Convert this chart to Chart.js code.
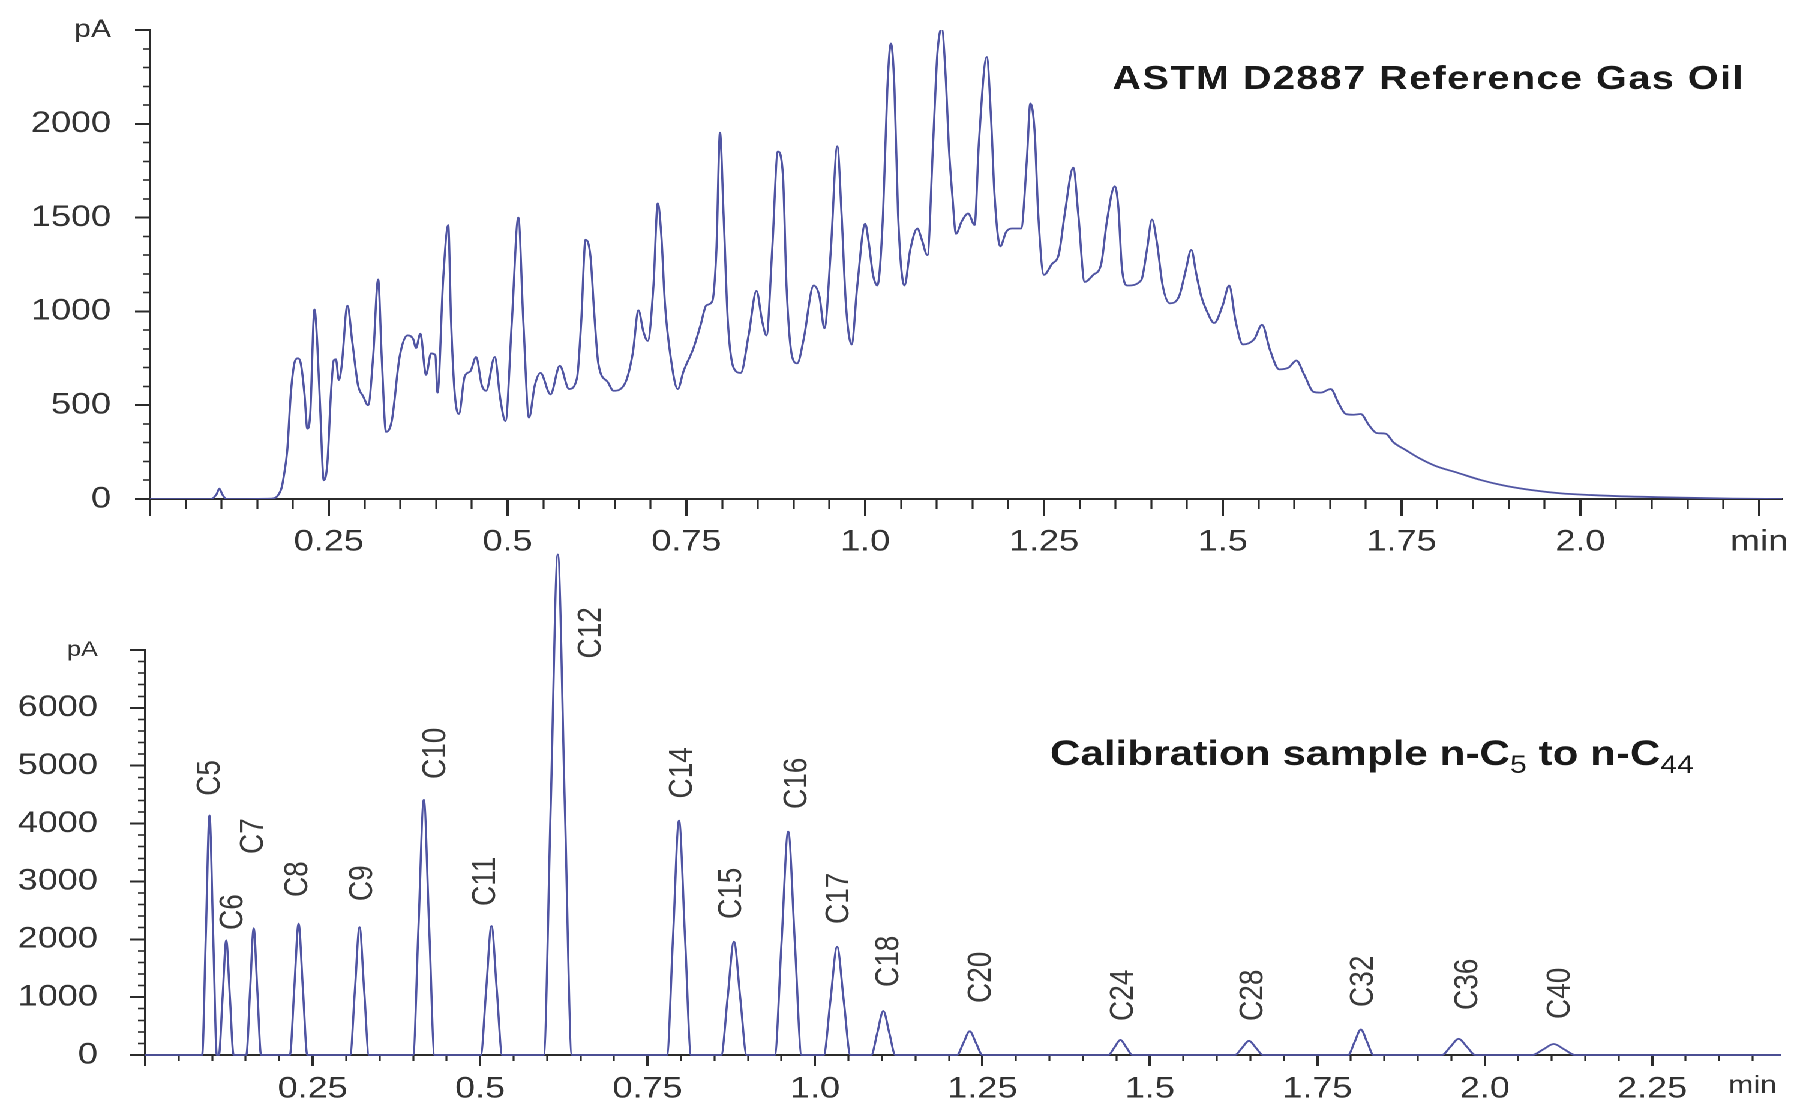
<!DOCTYPE html>
<html>
<head>
<meta charset="utf-8">
<script src="https://cdn.jsdelivr.net/npm/chart.js@4.4.1/dist/chart.umd.min.js"></script>
<style>
html,body{margin:0;padding:0;background:#ffffff;overflow:hidden;width:1796px;height:1103px;}
#wrap{position:absolute;left:0;top:0;width:1497px;height:1103px;transform:scaleX(1.2);transform-origin:0 0;}
#wrap canvas{position:absolute;left:0;top:0;}
</style>
</head>
<body>
<div id="wrap">
<canvas id="calib" width="1497" height="1103"></canvas>
<canvas id="gasoil" width="1497" height="1103"></canvas>
</div>
<script>
// ---------- data ----------
const GASOIL_TIME = [0.000,0.085,0.093,0.097,0.101,0.107,0.170,0.178,0.184,0.187,0.192,0.197,0.203,0.207,0.211,0.216,0.220,0.224,0.230,0.234,0.238,0.243,0.248,0.253,0.257,0.260,0.264,0.268,0.276,0.283,0.291,0.298,0.305,0.312,0.319,0.324,0.330,0.338,0.349,0.360,0.368,0.372,0.378,0.386,0.393,0.399,0.402,0.410,0.417,0.421,0.426,0.432,0.440,0.448,0.456,0.464,0.470,0.482,0.490,0.497,0.506,0.515,0.522,0.530,0.538,0.546,0.560,0.573,0.586,0.597,0.603,0.609,0.616,0.621,0.627,0.640,0.648,0.664,0.675,0.683,0.690,0.696,0.704,0.710,0.715,0.720,0.728,0.738,0.746,0.760,0.770,0.778,0.786,0.792,0.797,0.802,0.808,0.816,0.826,0.837,0.848,0.856,0.862,0.870,0.878,0.885,0.890,0.898,0.905,0.914,0.928,0.936,0.943,0.952,0.961,0.967,0.973,0.981,0.989,1.000,1.005,1.011,1.017,1.025,1.031,1.036,1.041,1.046,1.055,1.063,1.073,1.079,1.087,1.095,1.101,1.107,1.113,1.117,1.122,1.127,1.135,1.144,1.153,1.159,1.170,1.176,1.181,1.189,1.197,1.205,1.218,1.226,1.231,1.237,1.242,1.250,1.261,1.271,1.279,1.291,1.298,1.307,1.319,1.330,1.338,1.349,1.354,1.359,1.367,1.386,1.394,1.401,1.408,1.416,1.426,1.439,1.448,1.456,1.463,1.470,1.478,1.488,1.500,1.509,1.518,1.528,1.544,1.555,1.566,1.579,1.592,1.603,1.614,1.627,1.637,1.651,1.662,1.672,1.683,1.693,1.704,1.715,1.728,1.739,1.755,1.776,1.797,1.829,1.861,1.893,1.931,1.973,2.016,2.053,2.107,2.160,2.213,2.282];
const GASOIL_PA = [0,0,25,55,25,0,2,15,60,120,263,567,738,750,720,560,375,450,1010,820,480,100,190,560,740,745,634,710,1030,833,605,548,500,757,1170,757,358,415,757,872,852,805,881,662,776,767,567,1176,1460,948,567,453,653,681,757,605,577,757,529,415,948,1500,948,434,605,672,558,710,586,643,948,1382,1290,1000,720,624,577,615,776,1005,891,843,1138,1576,1404,1043,757,586,681,805,929,1033,1052,1328,1952,1518,948,700,672,872,1109,948,872,1328,1852,1728,1138,757,723,852,1138,1081,910,1328,1880,1518,1043,824,1138,1467,1366,1195,1138,1518,2185,2428,2185,1518,1138,1328,1442,1385,1300,1899,2375,2508,2223,1880,1614,1414,1480,1522,1461,1899,2356,2032,1614,1347,1423,1442,1442,1804,2109,1956,1518,1195,1252,1309,1518,1766,1518,1157,1195,1252,1480,1667,1557,1233,1138,1166,1328,1490,1366,1138,1043,1081,1214,1328,1200,1080,1000,938,1033,1138,948,824,852,929,795,691,700,738,662,571,567,586,510,453,449,453,396,352,348,301,263,215,177,139,101,72,48,30,21,15,10,6,2,0];

const CALIB_TIME = [0.000,
 0.085,0.0905,0.096,0.1015,0.107,
 0.110,0.1155,0.121,0.1265,0.132,
 0.151,0.1565,0.162,0.1675,0.173,
 0.216,0.2225,0.229,0.2355,0.242,
 0.306,0.313,0.320,0.327,0.334,
 0.400,0.408,0.416,0.424,0.432,
 0.501,0.509,0.517,0.525,0.533,
 0.595,0.6055,0.616,0.6265,0.637,
 0.779,0.788,0.797,0.806,0.815,
 0.860,0.8695,0.879,0.8885,0.898,
 0.940,0.950,0.960,0.970,0.980,
 1.013,1.023,1.033,1.043,1.053,
 1.084,1.093,1.102,1.111,1.120,
 1.212,1.2215,1.231,1.2405,1.250,
 1.438,1.447,1.456,1.465,1.474,
 1.627,1.6375,1.648,1.6585,1.669,
 1.796,1.8055,1.815,1.8245,1.834,
 1.936,1.9485,1.961,1.9735,1.986,
 2.071,2.087,2.103,2.119,2.135,
 2.442];
const CALIB_PA = [0,
 0,2070,4140,2070,0,
 0,990,1980,990,0,
 0,1095,2190,1095,0,
 0,1135,2270,1135,0,
 0,1105,2210,1105,0,
 0,2205,4410,2205,0,
 0,1115,2230,1115,0,
 0,4325,8650,4325,0,
 0,2025,4050,2025,0,
 0,980,1960,980,0,
 0,1930,3860,1930,0,
 0,935,1870,935,0,
 0,380,760,380,0,
 0,205,410,205,0,
 0,130,260,130,0,
 0,122,245,122,0,
 0,220,440,220,0,
 0,140,280,140,0,
 0,95,190,95,0,
 0];

const PEAK_NAMES      = ['C5','C6','C7','C8','C9','C10','C11','C12','C14','C15','C16','C17','C18','C20','C24','C28','C32','C36','C40'];
const PEAK_LABEL_TIME = [0.097,0.131,0.162,0.228,0.325,0.434,0.508,0.666,0.802,0.876,0.973,1.036,1.110,1.248,1.461,1.654,1.819,1.975,2.113];
const PEAK_LABEL_PA   = [4480,2160,3474,2730,2660,4770,2575,6853,4433,2350,4252,2264,1175,899,588,588,830,778,622];

const TOP_X_TICKS  = [0,0.25,0.5,0.75,1.0,1.25,1.5,1.75,2.0,2.25];
const TOP_X_LABELS = ['','0.25','0.5','0.75','1.0','1.25','1.5','1.75','2.0','min'];
const TOP_Y_TICKS  = [0,500,1000,1500,2000,2500];
const TOP_Y_LABELS = ['0','500','1000','1500','2000','pA'];
const BOT_X_TICKS  = [0,0.25,0.5,0.75,1.0,1.25,1.5,1.75,2.0,2.25,2.4];
const BOT_X_LABELS = ['','0.25','0.5','0.75','1.0','1.25','1.5','1.75','2.0','2.25','min'];
const BOT_Y_TICKS  = [0,1000,2000,3000,4000,5000,6000,7000];
const BOT_Y_LABELS = ['0','1000','2000','3000','4000','5000','6000','pA'];

const TOP_TITLE = 'ASTM D2887 Reference Gas Oil';
const BOT_TITLE_PARTS = [['Calibration sample n-C', false], ['5', true], [' to n-C', false], ['44', true]];

// ---------- helpers ----------
function steps(a, b, st) { const o = []; for (let i = 0; a + i * st <= b + 1e-9; i++) o.push(+(a + i * st).toFixed(4)); return o; }
const W = 1497, H = 1103;
const FAM = 'Liberation Sans';
const TXT = '#333333';
const AX = '#2b2b2b';
const LINE = '#5055a3';
Chart.defaults.font.family = FAM;

function zeroPad(s) { s.paddingLeft = 0; s.paddingRight = 0; s.paddingTop = 0; s.paddingBottom = 0; }

function makeScales(L) {
  return {
    x: {
      type: 'linear', position: 'bottom', weight: 1, min: 0, max: L.xmax,
      afterBuildTicks: s => { s.ticks = L.xTicks.map(v => ({ value: v })); },
      afterFit: s => { s.height = H - L.bottom; zeroPad(s); },
      ticks: {
        autoSkip: false, maxRotation: 0, minRotation: 0, padding: L.xPad, color: TXT,
        font: c => (c.tick && c.tick.value === L.xSmallVal) ? { family: FAM, size: L.xSmallSize } : { family: FAM, size: 30 },
        callback: (v, i) => L.xLabels[i]
      },
      grid: {
        drawOnChartArea: false, drawTicks: true, tickLength: L.xMajorLen, tickWidth: 2,
        tickColor: c => (c.tick && c.tick.value === L.xHideTick) ? 'rgba(0,0,0,0)' : AX
      },
      border: { display: true, color: AX, width: 2 }
    },
    xm: {
      type: 'linear', position: 'bottom', weight: 0, min: 0, max: L.xmax,
      afterBuildTicks: s => { s.ticks = steps(0, L.xMinorMax, 0.05).map(v => ({ value: v })); },
      afterFit: s => { s.height = 0; zeroPad(s); },
      ticks: { display: false },
      grid: { drawOnChartArea: false, drawTicks: true, tickLength: L.xMinorLen, tickWidth: 1.6, tickColor: AX },
      border: { display: false }
    },
    y: {
      type: 'linear', position: 'left', weight: 1, min: 0, max: L.ymax,
      afterBuildTicks: s => { s.ticks = L.yTicks.map(v => ({ value: v })); },
      afterFit: s => { s.width = L.left; zeroPad(s); },
      ticks: {
        autoSkip: false, padding: L.yPad, color: TXT,
        font: c => (c.tick && c.tick.value === L.ymax) ? { family: FAM, size: L.pASize } : { family: FAM, size: 30 },
        callback: (v, i) => L.yLabels[i]
      },
      grid: { drawOnChartArea: false, drawTicks: true, tickLength: L.yMajorLen, tickWidth: 2, tickColor: AX },
      border: { display: true, color: AX, width: 2 }
    },
    ym: {
      type: 'linear', position: 'left', weight: 0, min: 0, max: L.ymax,
      afterBuildTicks: s => { s.ticks = steps(0, L.ymax, L.yMinorStep).map(v => ({ value: v })); },
      afterFit: s => { s.width = 0; zeroPad(s); },
      ticks: { display: false },
      grid: { drawOnChartArea: false, drawTicks: true, tickLength: L.yMinorLen, tickWidth: 1.6, tickColor: AX },
      border: { display: false }
    }
  };
}

function pts(ts, vs) { return ts.map((t, i) => ({ x: t, y: vs[i] })); }

// ---------- top chart: gas oil ----------
const LTOP = {
  left: 125, right: 1485, top: 30, bottom: 499, xmax: 2.282, ymax: 2500,
  xTicks: TOP_X_TICKS, xLabels: TOP_X_LABELS, yTicks: TOP_Y_TICKS, yLabels: TOP_Y_LABELS,
  xMinorMax: 2.25, yMinorStep: 100, xPad: 8, yPad: 20, xMajorLen: 17, xMinorLen: 10,
  yMajorLen: 12.5, yMinorLen: 6, pASize: 25, xSmallVal: -1, xSmallSize: 30, xHideTick: -1
};
new Chart(document.getElementById('gasoil'), {
  type: 'scatter',
  data: { datasets: [{
    data: pts(GASOIL_TIME, GASOIL_PA), showLine: true, borderColor: LINE, borderWidth: 1.8,
    pointRadius: 0, cubicInterpolationMode: 'monotone', fill: false
  }] },
  options: {
    responsive: false, animation: false, devicePixelRatio: 2,
    layout: { padding: { left: 0, top: LTOP.top, right: W - LTOP.right, bottom: 0 } },
    plugins: { legend: { display: false }, tooltip: { enabled: false } },
    scales: makeScales(LTOP)
  },
  plugins: [{
    id: 'topTitle',
    afterDraw(chart) {
      const ctx = chart.ctx;
      ctx.save();
      ctx.font = 'bold 33px "' + FAM + '"';
      ctx.fillStyle = '#1a1a1a';
      ctx.textBaseline = 'alphabetic';
      ctx.textAlign = 'left';
      if ('letterSpacing' in ctx) ctx.letterSpacing = '1.2px';
      ctx.fillText(TOP_TITLE, 927, 89);
      ctx.restore();
    }
  }]
});

// ---------- bottom chart: calibration ----------
const LBOT = {
  left: 121, right: 1484, top: 650, bottom: 1055, xmax: 2.442, ymax: 7000,
  xTicks: BOT_X_TICKS, xLabels: BOT_X_LABELS, yTicks: BOT_Y_TICKS, yLabels: BOT_Y_LABELS,
  xMinorMax: 2.4, yMinorStep: 200, xPad: 5, yPad: 27, xMajorLen: 11, xMinorLen: 6,
  yMajorLen: 12.5, yMinorLen: 6, pASize: 21, xSmallVal: 2.4, xSmallSize: 25, xHideTick: 2.4
};
new Chart(document.getElementById('calib'), {
  type: 'scatter',
  data: { datasets: [{
    data: pts(CALIB_TIME, CALIB_PA), showLine: true, borderColor: LINE, borderWidth: 1.8,
    pointRadius: 0, cubicInterpolationMode: 'monotone', fill: false, clip: false
  }] },
  options: {
    responsive: false, animation: false, devicePixelRatio: 2,
    layout: { padding: { left: 0, top: LBOT.top, right: W - LBOT.right, bottom: 0 } },
    plugins: { legend: { display: false }, tooltip: { enabled: false } },
    scales: makeScales(LBOT)
  },
  plugins: [{
    id: 'calibTexts',
    afterDraw(chart) {
      const ctx = chart.ctx, xs = chart.scales.x, ys = chart.scales.y;
      ctx.save();
      // peak labels
      ctx.font = '28px "' + FAM + '"';
      ctx.fillStyle = '#3a3a3a';
      ctx.textAlign = 'left';
      ctx.textBaseline = 'middle';
      PEAK_NAMES.forEach((n, i) => {
        const px = xs.getPixelForValue(PEAK_LABEL_TIME[i]);
        const py = ys.getPixelForValue(PEAK_LABEL_PA[i]);
        ctx.save();
        ctx.translate(px, py);
        ctx.rotate(-Math.PI / 2);
        ctx.fillText(n, 0, 0);
        ctx.restore();
      });
      // title with subscripts
      let x = 875;
      const base = 765;
      ctx.textBaseline = 'alphabetic';
      ctx.fillStyle = '#1a1a1a';
      BOT_TITLE_PARTS.forEach(([txt, sub]) => {
        if (sub) { ctx.font = '25px "' + FAM + '"'; if ('letterSpacing' in ctx) ctx.letterSpacing = '0px'; }
        else { ctx.font = 'bold 35px "' + FAM + '"'; if ('letterSpacing' in ctx) ctx.letterSpacing = '0.1px'; }
        ctx.fillText(txt, x, sub ? base + 8 : base);
        x += ctx.measureText(txt).width;
      });
      ctx.restore();
    }
  }]
});
</script>
</body>
</html>
